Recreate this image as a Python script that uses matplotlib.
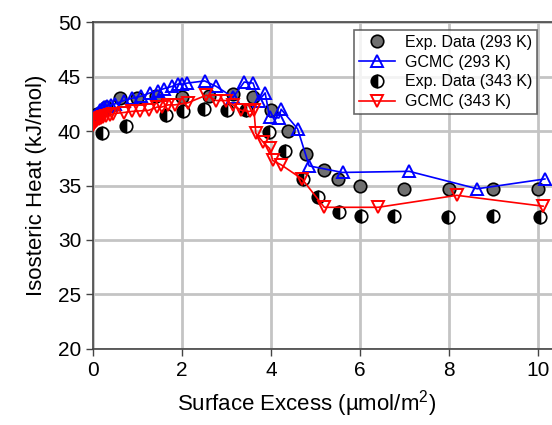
import numpy as np
import matplotlib
matplotlib.use('Agg')
import matplotlib.pyplot as plt

matplotlib.rcParams['font.family'] = ['Liberation Sans', 'DejaVu Sans']
matplotlib.rcParams['mathtext.fontset'] = 'custom'
matplotlib.rcParams['mathtext.rm'] = 'Liberation Sans'
matplotlib.rcParams['xtick.direction'] = 'out'
matplotlib.rcParams['ytick.direction'] = 'out'

# experimental data, 293 K
exp293_x = [0.1, 0.3, 0.6, 1.0, 1.42, 2.0, 2.6, 3.15, 3.6, 4.0, 4.38, 4.78, 5.2, 5.5, 6.0, 7.0, 8.0, 9.0, 10.0]
exp293_y = [41.6, 42.2, 43.0, 43.0, 43.2, 43.1, 43.2, 43.4, 43.1, 41.9, 40.0, 37.9, 36.4, 35.6, 35.0, 34.7, 34.7, 34.7, 34.7]

# experimental data, 343 K
exp343_x = [0.2, 0.74, 1.65, 2.02, 2.5, 3.02, 3.45, 3.95, 4.32, 4.72, 5.05, 5.52, 6.02, 6.77, 7.98, 9.0, 10.05]
exp343_y = [39.8, 40.5, 41.5, 41.8, 42.0, 41.9, 41.9, 39.9, 38.2, 35.6, 33.9, 32.6, 32.2, 32.2, 32.1, 32.2, 32.1]

# GCMC, 293 K
gcmc293_x = [0.0, 0.02, 0.04, 0.06, 0.09, 0.12, 0.16, 0.2, 0.25, 0.31, 0.4, 0.5,
             0.69, 0.87, 1.08, 1.28, 1.45, 1.6, 1.78, 1.9, 2.0, 2.12,
             2.51, 2.77, 3.15, 3.4, 3.6, 3.73, 3.87, 3.97, 4.18, 4.23,
             4.6, 4.86, 5.61, 7.11, 8.64, 10.16]
gcmc293_y = [41.2, 41.3, 41.4, 41.5, 41.6, 41.7, 41.9, 42.0, 42.2, 42.3, 42.4, 42.5,
             42.8, 43.0, 43.2, 43.5, 43.7, 43.9, 44.1, 44.3, 44.3, 44.4,
             44.6, 44.1, 43.1, 44.5, 44.4, 42.8, 43.5, 41.3, 41.2, 42.0,
             40.2, 36.8, 36.2, 36.3, 34.7, 35.6]

# GCMC, 343 K
gcmc343_x = [0.0, 0.02, 0.04, 0.07, 0.1, 0.14, 0.18, 0.23, 0.3, 0.38,
             0.46, 0.69, 0.87, 1.06, 1.25, 1.44, 1.54, 1.69, 1.84, 2.14,
             2.55, 2.77, 3.0, 3.15, 3.33, 3.52, 3.62, 3.66, 3.82, 3.97,
             4.04, 4.23, 4.7, 5.2, 6.41, 8.18, 10.12]
gcmc343_y = [40.6, 40.7, 40.8, 40.9, 41.0, 41.1, 41.2, 41.3, 41.4, 41.5,
             41.6, 41.7, 41.8, 41.85, 41.9, 42.2, 42.2, 42.4, 42.4, 42.6,
             43.3, 42.8, 42.8, 42.4, 41.9, 41.8, 41.9, 39.8, 39.0, 38.4,
             37.3, 36.9, 35.6, 33.0, 33.0, 34.1, 33.1]

fig = plt.figure(figsize=(5.52, 4.25), dpi=100)
ax = fig.add_axes([0.1685, 0.179, 0.8315, 0.769])

ax.plot(exp293_x, exp293_y, 'o', color='#707070', mec='black', mew=1.2, ms=9,
        label='Exp. Data (293 K)', zorder=3)
ax.plot(gcmc293_x, gcmc293_y, '-^', color='blue', mfc='none', mec='blue', mew=1.4, ms=8.5,
        lw=1.2, label='GCMC (293 K)', zorder=4)
ax.plot(exp343_x, exp343_y, 'o', fillstyle='left', mfc='black', mfcalt='white', mec='black',
        mew=1.2, ms=9, ls='none', label='Exp. Data (343 K)', zorder=3)
ax.plot(gcmc343_x, gcmc343_y, '-v', color='red', mfc='none', mec='red', mew=1.4, ms=8.5,
        lw=1.2, label='GCMC (343 K)', zorder=4)

ax.set_xlim(0, 10.32)
ax.set_ylim(20, 50)
ax.set_xticks([0, 2, 4, 6, 8, 10])
ax.set_yticks([20, 25, 30, 35, 40, 45, 50])
ax.tick_params(labelsize=15, length=5, width=1, color='#444444')
ax.grid(True, color='#c4c4c4', lw=2)
ax.set_axisbelow(True)
for s in ['left', 'bottom', 'top']:
    ax.spines[s].set_color('#444444')
    ax.spines[s].set_linewidth(1.2)
ax.spines['right'].set_visible(False)

ax.set_xlabel('Surface Excess (\u00b5mol/m$^2$)', fontsize=16, labelpad=6)
ax.xaxis.label.set_x(0.465)
ax.set_ylabel('Isosteric Heat (kJ/mol)', fontsize=16, labelpad=8)

leg = ax.legend(loc='upper right', fontsize=11.5, frameon=True, fancybox=False,
                edgecolor='#444444', handlelength=2.3, handletextpad=0.6,
                borderpad=0.3, labelspacing=0.3, bbox_to_anchor=(0.985, 1.0))
leg.get_frame().set_linewidth(1.2)

plt.savefig('out.png', dpi=100)
